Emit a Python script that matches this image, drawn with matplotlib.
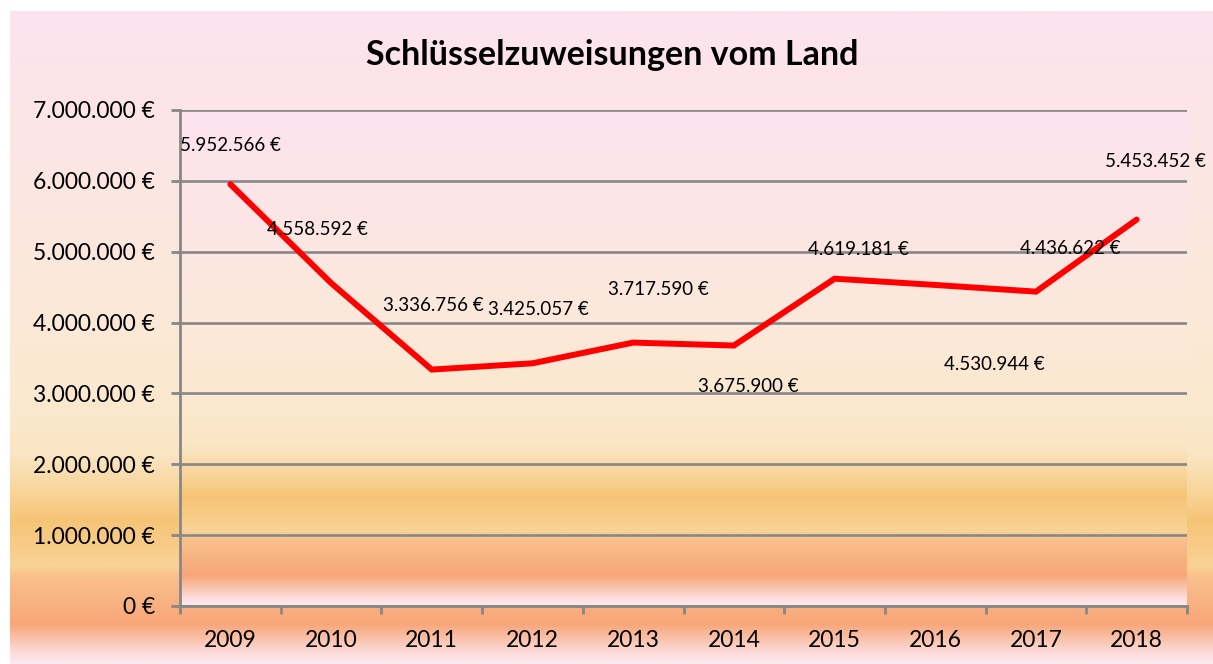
import matplotlib
matplotlib.use("Agg")
import matplotlib.pyplot as plt
import numpy as np
from matplotlib.colors import LinearSegmentedColormap
from matplotlib.ticker import FixedLocator, FuncFormatter

plt.rcParams['font.family'] = ['Lato', 'DejaVu Sans']

# data
years = ['2009', '2010', '2011', '2012', '2013', '2014', '2015', '2016', '2017', '2018']
amounts = [5952566, 4558592, 3336756, 3425057, 3717590, 3675900, 4619181, 4530944, 4436622, 5453452]
y_ticks = [0, 1000000, 2000000, 3000000, 4000000, 5000000, 6000000, 7000000]

# label offsets in pixels (dx, dy) - the labels were dragged around in the original
label_offsets = [(0, 39), (-14, 53), (2, 64), (6, 54), (25, 53),
                 (14, -41), (24, 29), (59, -80), (34, 43), (19, 58)]


def euro(value, pos=None):
	""" 1234567 -> '1.234.567 €' """
	return '{:,.0f} €'.format(value).replace(',', '.')


# background gradient, top to bottom
stops = [
	(0.00, '#fde3ef'),
	(0.38, '#fce8dd'),
	(0.60, '#fbe9cf'),
	(0.68, '#fae5c3'),
	(0.74, '#f8d497'),
	(0.78, '#f6c476'),
	(0.85, '#f9d296'),
	(0.87, '#f9bf8c'),
	(0.94, '#f8a678'),
	(0.985, '#fcdcdc'),
	(1.00, '#fde8ee'),
]
gradient_cmap = LinearSegmentedColormap.from_list('sunset', stops)
gradient = np.linspace(0, 1, 512).reshape(-1, 1)

W, H = 1213, 664
fig = plt.figure(figsize=(W / 100, H / 100), dpi=100)
fig.patch.set_facecolor('white')

# chart area
bg = fig.add_axes([10 / W, 0, (W - 10) / W, (H - 11) / H])
bg.imshow(gradient, cmap=gradient_cmap, aspect='auto', extent=[0, 1, 0, 1], origin='upper')
bg.set_axis_off()

# plot area
left, right, top, bottom = 180, 1187, 110, 606
ax = fig.add_axes([left / W, (H - bottom) / H, (right - left) / W, (bottom - top) / H])
x = np.arange(len(years))
ax.set_xlim(-0.5, len(years) - 0.5)
ax.set_ylim(0, 7000000)
ax.imshow(gradient, cmap=gradient_cmap, aspect='auto',
	extent=[-0.5, len(years) - 0.5, 0, 7000000], origin='upper', zorder=0)

grid_color = '#878787'
for spine in ['top', 'right']:
	ax.spines[spine].set_visible(False)
for spine in ['left', 'bottom']:
	ax.spines[spine].set_color(grid_color)
	ax.spines[spine].set_linewidth(2)
	ax.spines[spine].set_zorder(3)

ax.yaxis.set_major_locator(FixedLocator(y_ticks))
ax.yaxis.set_major_formatter(FuncFormatter(euro))
ax.yaxis.grid(True, color=grid_color, linewidth=1.9)
ax.set_axisbelow(False)
for line in ax.get_ygridlines():
	line.set_zorder(1)

# category labels centred, tick marks between categories
ax.set_xticks(np.arange(len(years) + 1) - 0.5)
ax.set_xticklabels([])
ax.set_xticks(x, minor=True)
ax.set_xticklabels(years, minor=True)
ax.tick_params(axis='x', which='major', length=6, width=2, color=grid_color)
ax.tick_params(axis='x', which='minor', length=0, pad=17, labelsize=16.5)
ax.tick_params(axis='y', length=6.5, width=2, color=grid_color, pad=11.5, labelsize=16.5)

ax.plot(x, amounts, color='#ff0000', linewidth=4.3, solid_capstyle='round',
	solid_joinstyle='miter', zorder=4)

for xi, value, (dx, dy) in zip(x, amounts, label_offsets):
	ax.annotate(euro(value), (xi, value), xytext=(dx, dy), textcoords='offset pixels',
		ha='center', va='center', fontsize=13.5, color='black', zorder=5,
		annotation_clip=False)

fig.text(612 / W, 1 - 55 / H, 'Schlüsselzuweisungen vom Land', ha='center', va='center',
	fontsize=24.5, fontweight='bold')

fig.savefig('out.png', dpi=100)
